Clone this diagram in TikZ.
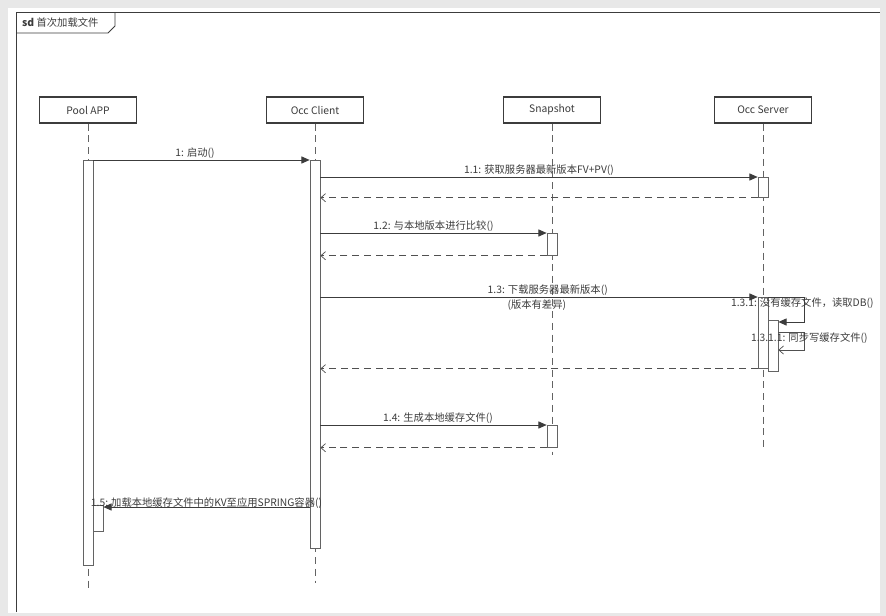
\documentclass[tikz,border=0pt]{standalone}
\usepackage{fontspec}
\setmainfont{Noto Sans CJK SC}
\usetikzlibrary{positioning,arrows.meta,calc}
\definecolor{sqLine}{RGB}{60,60,60}
\definecolor{sqBack}{RGB}{232,232,232}

\begin{document}
\begin{tikzpicture}[
    x=0.03cm, y=-0.03cm,
    every node/.style={font=\fontsize{8.8}{10}\selectfont, text=sqLine},
    actor/.style={rectangle, draw=sqLine, line width=1.1pt, minimum width=2.9cm, minimum height=0.78cm, fill=white},
    lifeline/.style={draw=sqLine!80, line width=0.7pt, dash pattern=on 6pt off 4pt},
    act/.style={rectangle, draw=sqLine!80, line width=0.6pt, fill=white, minimum width=0.3cm, inner sep=0pt, anchor=north},
    msg/.style={draw=sqLine, line width=0.6pt, -{Triangle[length=7pt, width=6pt]}},
    ret/.style={draw=sqLine!90, line width=0.6pt, dash pattern=on 6pt off 4pt, -{Straight Barb[length=4pt, width=7pt]}},
    selfret/.style={draw=sqLine!90, line width=0.6pt, -{Straight Barb[length=4pt, width=7pt]}},
    msg label/.style={inner sep=1pt, fill=none}
]
  \useasboundingbox (0,0) rectangle (886,616);
  \fill[sqBack] (0,0) rectangle (886,616);
  \fill[white] (8,8) rectangle (880,613);

  % frame
  \draw[sqLine, line width=0.8pt] (16,612) -- (16,12) -- (880,12);
  \draw[sqLine, line width=0.8pt] (16,33) -- (108,33) -- (115,26) -- (115,12);
  \node[anchor=west, inner sep=0pt] (title) at (22,23) {\textbf{sd} 首次加载文件};

  % lifelines
  \node[actor] (app) at (88,110) {Pool APP};
  \node[actor] (client) at (315,110) {Occ Client};
  \node[actor] (snap) at (552,110) {Snapshot};
  \node[actor] (server) at (763,110) {Occ Server};

  \coordinate (appEnd) at (88,590);
  \coordinate (clientEnd) at (315,583);
  \coordinate (snapEnd) at (552,455);
  \coordinate (serverEnd) at (763,450);
  \draw[lifeline] (app) -- (appEnd);
  \draw[lifeline] (client) -- (clientEnd);
  \draw[lifeline] (snap) -- (snapEnd);
  \draw[lifeline] (server) -- (serverEnd);

  % activations
  \node[act, minimum height=405*0.03cm] (aApp) at (88,160) {};
  \node[act, minimum height=388*0.03cm] (aClient) at (315,160) {};
  \node[act, minimum height=20*0.03cm] (aServer1) at (763,177) {};
  \node[act, minimum height=22*0.03cm] (aSnap1) at (552,233) {};
  \node[act, minimum height=71*0.03cm] (aServer2) at (763,297) {};
  \node[act, minimum height=51*0.03cm] (aServer3) at (773,320) {};
  \node[act, minimum height=22*0.03cm] (aSnap2) at (552,425) {};
  \node[act, minimum height=26*0.03cm] (aApp2) at (98,505) {};

  % messages
  \draw[msg] (aApp.north east) -- node[msg label, above, pos=0.47] {1: 启动()} (aClient.north west);

  \draw[msg] (aClient.east |- aServer1.north) -- node[msg label, above, pos=0.5] {1.1: 获取服务器最新版本FV+PV()} (aServer1.north west);
  \draw[ret] (aServer1.south west) -- (aClient.east |- aServer1.south);

  \draw[msg] (aClient.east |- aSnap1.north) -- node[msg label, above, pos=0.5] {1.2: 与本地版本进行比较()} (aSnap1.north west);
  \draw[ret] (aSnap1.south west) -- (aClient.east |- aSnap1.south);

  \draw[msg] (aClient.east |- aServer2.north) -- node[msg label, above, pos=0.52] {1.3: 下载服务器最新版本()}
    node[msg label, below=1pt, pos=0.495] {(版本有差异)} (aServer2.north west);
  \draw[msg] (aServer2.north east) -- node[msg label, below=-1pt, xshift=16*0.03cm] {1.3.1: 没有缓存文件，读取DB()}
    ++(36,0) |- ($(aServer3.north east)+(0,2)$);
  \draw[selfret] ($(aServer3.north east)+(0,12)$) -- node[msg label, below=-1pt, xshift=18*0.03cm] {1.3.1.1: 同步写缓存文件()}
    ++(26,0) |- ($(aServer3.north east)+(0,30)$);
  \draw[ret] (aServer2.south west) -- (aClient.east |- aServer2.south);

  \draw[msg] (aClient.east |- aSnap2.north) -- node[msg label, above, pos=0.52] {1.4: 生成本地缓存文件()} (aSnap2.north west);
  \draw[ret] (aSnap2.south west) -- (aClient.east |- aSnap2.south);

  \draw[msg] ($(aClient.west |- aApp2.north)+(0,2)$) -- node[msg label, above=-3pt, pos=0.5] {1.5: 加载本地缓存文件中的KV至应用SPRING容器()} ($(aApp2.north east)+(0,2)$);
\end{tikzpicture}
\end{document}
